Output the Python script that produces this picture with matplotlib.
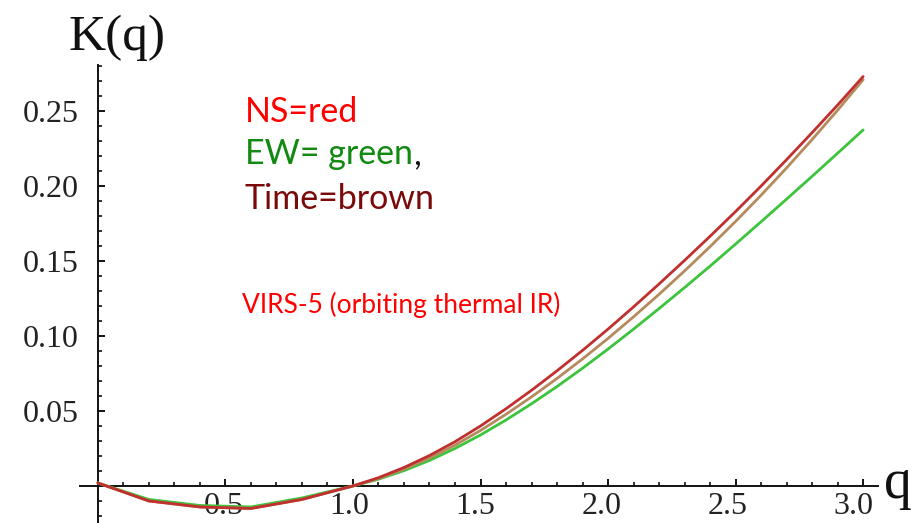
import numpy as np
import matplotlib
matplotlib.use("Agg")
import matplotlib.pyplot as plt
from matplotlib.ticker import MultipleLocator, FixedLocator

# scaling exponent K(q) for the three components
q = [0.0, 0.2, 0.4, 0.6, 0.8, 1.0, 1.1, 1.2, 1.3, 1.4, 1.5, 1.6, 1.7, 1.8, 1.9, 2.0,
     2.1, 2.2, 2.3, 2.4, 2.5, 2.6, 2.7, 2.8, 2.9, 3.0]
k_ns = [0.002, -0.010, -0.014, -0.015, -0.009, 0.000, 0.0055, 0.0123, 0.0203, 0.0295,
        0.0400, 0.0515, 0.0638, 0.0768, 0.0904, 0.1046, 0.1194, 0.1347, 0.1504, 0.1665,
        0.1830, 0.2000, 0.2176, 0.2356, 0.2540, 0.2730]
k_time = [0.002, -0.010, -0.014, -0.015, -0.009, 0.000, 0.0050, 0.0112, 0.0186, 0.0272,
          0.0370, 0.0478, 0.0594, 0.0717, 0.0847, 0.0984, 0.1128, 0.1278, 0.1434, 0.1596,
          0.1764, 0.1939, 0.2121, 0.2310, 0.2506, 0.2709]
k_ew = [0.002, -0.009, -0.013, -0.014, -0.008, 0.000, 0.0045, 0.0102, 0.0170, 0.0250,
        0.0340, 0.0440, 0.0548, 0.0663, 0.0785, 0.0913, 0.1046, 0.1183, 0.1323, 0.1466,
        0.1613, 0.1762, 0.1913, 0.2065, 0.2219, 0.2374]

xticks = [0.5, 1.0, 1.5, 2.0, 2.5, 3.0]
yticks = [0.05, 0.10, 0.15, 0.20, 0.25]

W, H = 920, 523
fig = plt.figure(figsize=(W / 100, H / 100), dpi=100)
ax = fig.add_axes([80 / W, 0.0, (881 - 80) / W, (H - 65) / H])
ax.set_xlim(-0.07, 3.07)
ax.set_ylim(-0.0247, 0.2807)

serif = "Liberation Serif"

# x labels sit a little to the left of their ticks
for v in xticks:
    ax.annotate("%.1f" % v, xy=(v, 0), xytext=(-3.3 * v, -6),
                textcoords="offset pixels", ha="center", va="top",
                fontsize=23, family=serif, color="#222222", zorder=1)

ax.plot(q, k_ew, color="#3cc43c", lw=2.0, solid_capstyle="round", zorder=3)
ax.plot(q, k_time, color="#b58a5c", lw=2.0, solid_capstyle="round", zorder=3)
ax.plot(q, k_ns, color="#c0302e", lw=2.0, solid_capstyle="round", zorder=3)

# axes crossing at the origin
for s in ["top", "right"]:
    ax.spines[s].set_visible(False)
ax.spines["left"].set_position(("data", 0))
ax.spines["bottom"].set_position(("data", 0))
ax.spines["left"].set_bounds(-0.03, 0.2807)
ax.spines["bottom"].set_bounds(-0.07, 3.06)
for s in ["left", "bottom"]:
    ax.spines[s].set_linewidth(1.4)
    ax.spines[s].set_color("#111111")

ax.xaxis.set_major_locator(FixedLocator(xticks))
ax.xaxis.set_minor_locator(MultipleLocator(0.1))
ax.yaxis.set_major_locator(FixedLocator(yticks))
ax.yaxis.set_minor_locator(MultipleLocator(0.01))
ax.set_xticklabels([])
ax.set_yticklabels(["%.2f" % v for v in yticks])
ax.tick_params(which="major", direction="in", length=5, width=1.4, color="#111111")
ax.tick_params(which="minor", direction="in", length=3, width=1.2, color="#111111")
ax.tick_params(axis="y", which="major", pad=14)
for lab in ax.get_yticklabels():
    lab.set_fontfamily(serif)
    lab.set_fontsize(23)
    lab.set_color("#222222")

fig.text(68 / W, 1 - 50 / H, "K(q)", fontsize=37, family=serif,
         color="#111111", va="baseline")
fig.text(884 / W, 1 - 498 / H, "q", fontsize=40, family=serif,
         color="#111111", va="baseline")

sans = "Lato"
fs = 24.5
fig.text(245 / W, 1 - 122 / H, "NS=red", fontsize=fs, family=sans,
         color="#ff0000", va="baseline")
ew = fig.text(245 / W, 1 - 164 / H, "EW= green", fontsize=fs, family=sans,
              color="#128a12", va="baseline")
fig.text(245 / W, 1 - 209 / H, "Time=brown", fontsize=fs, family=sans,
         color="#7a0a0a", va="baseline")
fig.text(242 / W, 1 - 313 / H, "VIRS-5 (orbiting thermal IR)", fontsize=19,
         family=sans, color="#ff0000", va="baseline")

# black comma right after the green label
bb = ew.get_window_extent(fig.canvas.get_renderer())
fig.text(bb.x1 / W, 1 - 164 / H, ",", fontsize=fs, family=sans,
         color="#111111", va="baseline")

fig.savefig("out.png", dpi=100)
